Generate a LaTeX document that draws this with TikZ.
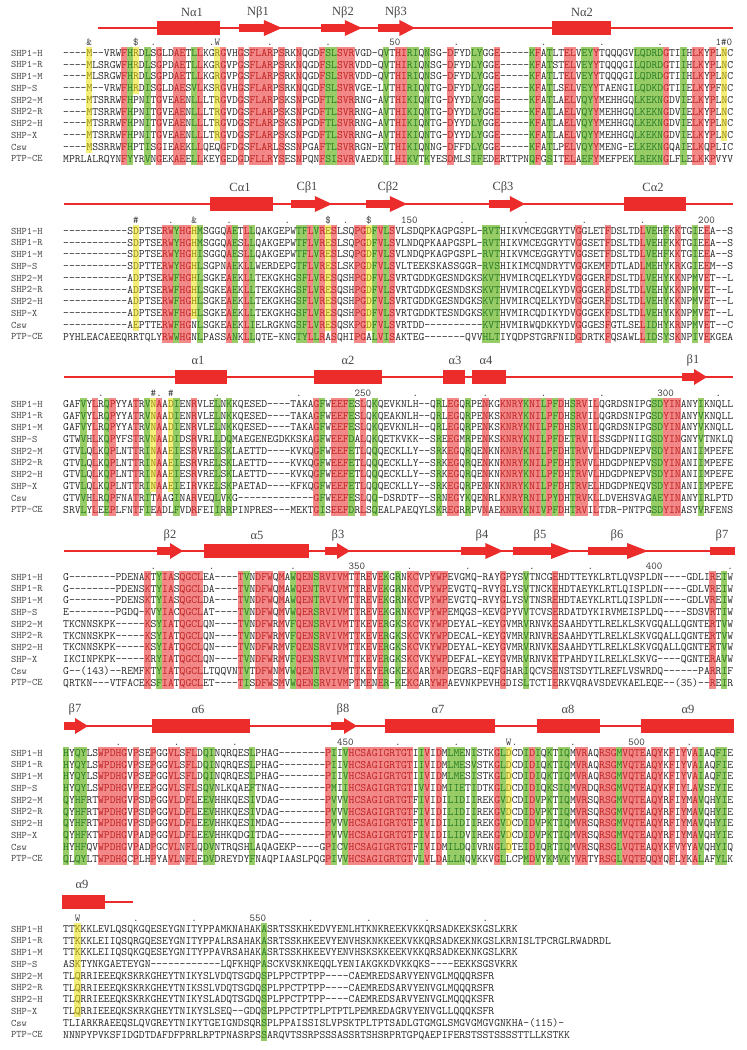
\documentclass[tikz,border=0pt]{standalone}
\usepackage{fontspec}
\newfontfamily\lblfont{Liberation Serif}
\definecolor{hlr}{RGB}{242,136,136}
\definecolor{hlg}{RGB}{152,204,102}
\definecolor{hly}{RGB}{244,238,122}
\definecolor{txr}{RGB}{190,32,32}
\definecolor{txg}{RGB}{36,122,36}
\definecolor{txy}{RGB}{146,136,16}
\definecolor{txn}{RGB}{40,40,40}
\definecolor{lblc}{RGB}{70,70,70}
\definecolor{mkc}{RGB}{60,60,60}
\definecolor{ssred}{RGB}{236,43,43}
\definecolor{sslc}{RGB}{70,70,70}
% font size chosen so that one character is 5.826pt wide
\newlength\tmpw
\settowidth\tmpw{\ttfamily\fontsize{11.1}{12}\selectfont M}
\pgfmathsetmacro\seqfs{11.1*5.826/\tmpw}
\settowidth\tmpw{\ttfamily\fontsize{\seqfs}{12}\selectfont M}
\pgfmathsetmacro\cw{\tmpw}
\tikzset{
  seqrowt/.style={font=\ttfamily\fontsize{\seqfs}{12}\selectfont, inner sep=0pt, anchor=base west, text=txn},
  lbl/.style={font=\ttfamily\fontsize{10}{12}\selectfont, inner sep=0pt, anchor=base west, text=lblc},
  mk/.style={font=\ttfamily\fontsize{10.5}{12}\selectfont, inner sep=0pt, anchor=base, text=mkc},
  mknum/.style={mk, anchor=base west},
  sslab/.style={font=\lblfont\fontsize{12.5}{14}\selectfont, inner sep=0pt, text=sslc},
  ssl/.style={draw=ssred, line width=2.7pt},
}
\newcount\cidx
\newtoks\rowtoks
\def\xo{63}
\def\pitch{11.75}
\expandafter\def\csname by1\endcsname{53}
\expandafter\def\csname by2\endcsname{231}
\expandafter\def\csname by3\endcsname{404}
\expandafter\def\csname by4\endcsname{577}
\expandafter\def\csname by5\endcsname{753}
\expandafter\def\csname by6\endcsname{929}
\def\pass{1}
\newcommand\colorcols[2]{%
  \foreach \ca/\cb/\kk/\ra/\rb in {#2}{%
    \foreach \cc in {\ca,...,\cb}{%
      \foreach \rr in {\ra,...,\rb}{%
        \expandafter\xdef\csname cl@#1@\rr @\cc\endcsname{\kk}%
      }}}}
\newcommand\seqcell[1]{%
  \ifcsname cl@\curb @\curr @\the\cidx\endcsname
    \edef\kk{\csname cl@\curb @\curr @\the\cidx\endcsname}%
    \ifx-#1\def\kk{n}\fi
  \else\def\kk{n}\fi
  \if1\pass
    \if n\kk\else
      \pgfmathsetmacro\cx{\xo+\the\cidx*\cw}%
      \fill[hl\kk] (\cx-0.2,\cury-\pitch/2-0.25) rectangle (\cx+\cw+0.2,\cury+\pitch/2+0.25);%
    \fi
  \else
    \if n\kk \global\rowtoks=\expandafter{\the\rowtoks #1\kern0pt}%
    \else\if r\kk \global\rowtoks=\expandafter{\the\rowtoks\textcolor{txr}{#1}}%
    \else\if g\kk \global\rowtoks=\expandafter{\the\rowtoks\textcolor{txg}{#1}}%
    \else \global\rowtoks=\expandafter{\the\rowtoks\textcolor{txy}{#1}}%
    \fi\fi\fi
  \fi}
\def\seqscan#1{\ifx\relax#1\else\seqcell{#1}\global\advance\cidx by 1\relax\expandafter\seqscan\fi}
\newcommand\seqrow[4]{%
  \pgfmathsetmacro\cury{\csname by#1\endcsname+(#2-1)*\pitch}%
  \def\curb{#1}\def\curr{#2}%
  \global\cidx=0\relax
  \global\rowtoks={}%
  \seqscan#4\relax
  \if2\pass
    \node[seqrowt] (seq-#1-#2) at (\xo,\cury+3.4) {\the\rowtoks};
    \node[lbl] (lab-#1-#2) at (11,\cury+3.2) {#3};
  \fi}
\newcommand\mkmarks[2]{%
  \pgfmathsetmacro\my{\csname by#1\endcsname-8}%
  \foreach \mc/\mt in {#2}{\node[mk] at ({\xo+(\mc+0.5)*\cw},\my) {\mt};}}
\newcommand\mknums[2]{%
  \pgfmathsetmacro\my{\csname by#1\endcsname-8}%
  \foreach \mc/\mt in {#2}{\node[mknum] at ({\xo+\mc*\cw},\my) {\mt};}}
\newcommand\ssarrow[3]{%
  \pgfmathsetmacro\hl{min(21,max(13,0.42*(#2-#1)))}%
  \fill[ssred] (#1,#3-3.8) -- ({#2-\hl},#3-3.8) -- ({#2-\hl},#3-8) -- (#2,#3) -- ({#2-\hl},#3+8) -- ({#2-\hl},#3+3.8) -- (#1,#3+3.8) -- cycle;}
\newcommand\sshelix[3]{\fill[ssred] (#1,#3-6.8) rectangle (#2,#3+6.8);}
\newcommand\ssbody[3]{\fill[ssred] (#1,#3-3.8) rectangle (#2,#3+3.8);}

% ---------------- colour columns ----------------
\colorcols{1}{4/4/y/1/9, 10/10/r/1/10, 11/11/g/1/10, 12/12/y/1/4, 14/14/g/1/10, 16/16/r/1/10,
  19/20/r/1/10, 22/22/g/1/10, 23/23/r/1/10, 26/26/y/1/8, 27/27/r/1/10, 30/30/r/1/10,
  32/35/r/1/10, 37/37/r/1/10, 40/40/r/1/10, 44/44/r/1/10, 45/46/g/1/10, 47/49/r/1/10,
  55/55/g/1/10, 57/58/r/1/10, 59/60/g/1/10, 62/62/g/1/10, 66/66/r/1/10, 70/71/g/1/10,
  74/74/r/1/10, 80/80/g/1/10, 81/81/r/1/10, 83/83/g/1/10, 86/87/r/1/10, 89/90/g/1/10, 91/91/r/1/10,
  98/102/g/1/10, 103/103/r/1/10, 106/106/g/1/10, 108/109/r/1/10, 111/111/r/1/10, 113/113/y/1/8}
\colorcols{2}{12/12/y/1/9, 17/18/r/1/10, 19/19/g/1/10, 20/21/r/1/10, 22/22/y/1/8, 23/23/g/1/10,
  28/28/r/1/10, 29/29/g/1/10, 31/31/r/1/10, 32/32/g/1/10, 40/41/g/1/10, 42/42/r/1/10,
  43/43/g/1/10, 44/44/r/1/10, 45/45/y/1/9, 46/46/r/1/10, 50/51/r/1/10, 52/52/y/1/9,
  53/53/g/1/10, 54/54/r/1/10, 55/55/g/1/10, 56/56/r/1/10, 72/74/g/1/10, 88/88/r/1/10,
  93/93/r/1/10, 99/99/r/1/10, 100/101/g/1/10, 103/103/g/1/10, 105/105/r/1/10,
  108/108/g/1/10, 110/110/r/1/10}
\colorcols{3}{3/3/g/1/10, 5/5/r/1/10, 7/7/g/1/10, 8/8/r/1/10, 12/12/r/1/10, 14/14/g/1/10,
  15/15/y/1/8, 16/16/r/1/10, 18/18/y/1/8, 19/19/g/1/10, 22/22/r/1/10, 26/26/g/1/10,
  28/28/g/1/10, 43/43/r/1/10, 44/44/g/1/10, 46/48/r/1/10, 49/49/g/1/10, 51/51/r/1/10,
  53/53/g/1/10, 64/64/g/1/10, 66/67/r/1/10, 69/69/g/1/10, 72/72/r/1/10, 75/78/r/1/10,
  79/79/g/1/10, 80/81/r/1/10, 82/82/g/1/10, 83/83/r/1/10, 84/84/g/1/10, 85/85/r/1/10,
  87/87/g/1/10, 88/89/r/1/10, 91/91/r/1/10, 101/102/g/1/10, 103/105/r/1/10, 109/109/g/1/10}
\colorcols{4}{14/14/r/1/10, 16/16/g/1/10, 17/18/r/1/10, 20/23/r/1/10, 30/30/r/1/10,
  31/31/g/1/10, 33/35/r/1/10, 37/37/r/1/10, 39/39/g/1/10, 40/42/r/1/10, 43/43/g/1/10,
  44/48/r/1/10, 50/50/r/1/10, 52/52/r/1/10, 54/54/r/1/10, 55/55/g/1/10, 57/57/g/1/10,
  59/60/r/1/10, 63/65/r/1/10, 75/75/r/1/10, 79/79/g/1/10, 84/84/r/1/10, 111/111/r/1/10,
  113/113/g/1/10}
\colorcols{5}{0/0/g/1/10, 2/3/g/1/10, 6/10/r/1/10, 12/12/r/1/10, 15/15/r/1/10, 18/19/r/1/10,
  21/22/r/1/10, 24/25/g/1/10, 32/32/g/1/10, 45/45/r/1/10, 46/46/g/1/10, 48/48/g/1/10,
  49/59/r/1/10, 61/61/g/1/10, 62/62/r/1/10, 64/64/r/1/10, 66/68/g/1/10, 70/70/g/1/10,
  74/74/r/1/10, 75/75/g/1/10, 76/76/y/1/9, 79/79/g/1/10, 80/80/r/1/10, 81/81/g/1/10,
  83/83/g/1/10, 85/86/g/1/10, 88/89/r/1/10, 92/94/r/1/10, 95/95/g/1/10, 96/99/r/1/10,
  101/102/r/1/10, 104/104/r/1/10, 106/106/r/1/10, 108/108/r/1/10, 109/109/g/1/10,
  112/113/g/1/10}
\colorcols{6}{2/2/y/1/8, 34/34/g/1/10}

\newcommand\allrows{%
\seqrow{1}{1}{SHP1-H}{----M--VRWFHRDLSGLDAETLLKGRGVHGSFLARPSRKNQGDFSLSVRVGD-QVTHIRIQNSG-DFYDLYGGE-----KFATLTELVEYYTQQQGVLQDRDGTIIHLKYPLNC}%
\seqrow{1}{2}{SHP1-R}{----MLSRGWFHRDLSGPDAETLLKGRGVPGSFLARPSRKNQGDFSLSVRVDD-QVTHIRIQNSG-DFYDLYGGE-----KFATSTELVEYYTQQQGILQDRDGTIIHLKYPLNC}%
\seqrow{1}{3}{SHP1-M}{----MLSRGWFHRDLSGPDAETLLKGRGVPGSFLARPSRKNQGDFSLSVRVDD-QVTHIRIQNSG-DFYDLYGGE-----KFATLTELVEYYTQQQGILQDRDGTIIHLKYPLNC}%
\seqrow{1}{4}{SHP-S}{----M--VRWFHRDISGLDAESVLKSRGVHGSFLARPSRKNQGDFSLSVRVGE-LVTHIRIQNTG-DFYDLYGGE-----KFATLSELVEYYTAENGILQDKDGTIIELKYPFNC}%
\seqrow{1}{5}{SHP2-M}{----MTSRRWFHPNITGVEAENLLLTRGVDGSFLARPSKSNPGDFTLSVRRNG-AVTHIKIQNTG-DYYDLYGGE-----KFATLAELVQYYMEHHGQLKEKNGDVIELKYPLNC}%
\seqrow{1}{6}{SHP2-R}{----MTSRRWFHPNITGVEAENLLLTRGVDGSFLARPSKSNPGDFTLSVRRNG-AVTHIKIQNTG-DYYDLYGGE-----KFATLAELVQYYMEHHGQLKEKNGDVIELKYPLNC}%
\seqrow{1}{7}{SHP2-H}{----MTSRRWFHPNITGVEAENLLLTRGVDGSFLARPSKSNPGDFTLSVRRNG-AVTHIKIQNTG-DYYDLYGGE-----KFATLAELVQYYMEHHGQLKEKNGDVIELKYPLNC}%
\seqrow{1}{8}{SHP-X}{----MTSRRWFHPNITGVEAENLLLTRGVDGSFLARPSKSNPGDFTLSVRRNG-AVTHIKIQNTG-DYYDLYGGE-----KFATLAELVQYYMEHHGQLKEKNGDVIELKYPLNC}%
\seqrow{1}{9}{Csw}{----MSSRRWFHPTISGIEAEKLLQEQGFDGSFLARLSSSNPGAFTLSVRRGN-EVTHIKIQNNG-DFFDLYGGE-----KFATLPELVQYYMENG-ELKEKNGQAIELKQPLIC}%
\seqrow{1}{10}{PTP-CE}{MPRLALRQYNFYYRVNGEKAEELLKEYGEDGDFLLRYSESNPQNFSISVRVAEDKILHIKVTKYESDMLSIFEDERTTPNQFGSITELAEFYMEFPEKLREKNGLFLELKKPVYV}%
%
\seqrow{2}{1}{SHP1-H}{-----------SDPTSERWYHGHMSGGQAETLLQAKGEPWTFLVRESLSQPGDFVLSVLSDQPKAGPGSPL-RVTHIKVMCEGGRYTVGGLETFDSLTDLVEHFKKTGIEEA--S}%
\seqrow{2}{2}{SHP1-R}{-----------SDPTSERWYHGHMSGGQAESLLQAKGEPWTFLVRESLSQPGDFVLSVLNDQPKAAPGSPL-RVTHIKVMCEGGRYTVGGSETFDSLTDLVEHFKKTGIEEA--S}%
\seqrow{2}{3}{SHP1-M}{-----------SDPTSERWYHGHISGGQAESLLQAKGEPWTFLVRESLSQPGDFVLSVLNDQPKAGPGSPL-RVTHIKVMCEGGRYTVGGSETFDSLTDLVEHFKKTGIEEA--S}%
\seqrow{2}{4}{SHP-S}{-----------SDPTTERWYHGHLSGPNAEKLLWERDEPGTFLVRESLSKPGDFVLSVLTEEKSKASSGGR-RVSHIKIMCQNDRYTVGGKEMFDTLADLMEHYKRKGIEEM--S}%
\seqrow{2}{5}{SHP2-M}{-----------ADPTSERWFHGHLSGKEAEKLLTEKGKHGSFLVRESQSHPGDFVLSVRTGDDKGESNDGKSKVTHVMIRCQELKYDVGGGERFDSLTDLVEHYKKNPMVET--L}%
\seqrow{2}{6}{SHP2-R}{-----------ADPTSERWFHGHLSGKEAEKLLTEKGKHGSFLVRESQSHPGDFVLSVRTGDDKGESNDSKSKVTHVMIRCQELKYDVGGGERFDSLTDLVEHYKKNPMVET--L}%
\seqrow{2}{7}{SHP2-H}{-----------ADPTSERWFHGHLSGKEAEKLLTEKGKHGSFLVRESQSHPGDFVLSVRTGDDKGESNDGKSKVTHVMIRCQELKYDVGGGERFDSLTDLVEHYKKNPMVET--L}%
\seqrow{2}{8}{SHP-X}{-----------ADPTSERWFHGHLSGKEAEKLLTEKGKHGSFLVRESQSHPGDFVLSVRTGDDKTESNDGKSKVTHVMIRCQDIKYDVGGGEKFDSLTDLVEHYKKNPMVET--L}%
\seqrow{2}{9}{Csw}{-----------AEPTTERWFHGNLSGKEAEKLIELRGKNGSFLVRESQSKPGDFVLSVRTDD----------KVTHVMIRWQDKKYDVGGGESFGTLSELIDHYKRNPMVET--C}%
\seqrow{2}{10}{PTP-CE}{PYHLEACAEEQRRTQLYRWWHGNLPASSANKLLQTE-KNGTYLLRASQHIPGALVISAKTEG-------QVVHLTIYQDPSTGRFNIDGDRTKFQSAWLLIDSYSKNPIVEKGEA}%
%
\seqrow{3}{1}{SHP1-H}{GAFVYLRQPYYATRVNAADIENRVLELNKKQESED----TAKAGFWEEFESLQKQEVKNLH--QRLEGQRPENKGKNRYKNILPFDHSRVILQGRDSNIPGSDYINANYIKNQLL}%
\seqrow{3}{2}{SHP1-R}{GAFVYLRQPYYATRVNAADIENRVLELNKKQESED----TAKAGFWEEFESLQKQEAKNLH--QRLEGQRPENKSKNRYKNILPFDHSRVILQGRDSNIPGSDYINANYVKNQLL}%
\seqrow{3}{3}{SHP1-M}{GAFVYLRQPYYATRVNAADIENRVLELNKKQESED----TAKAGFWEEFESLQKQEVKNLH--QRLEGQRPENKSKNRYKNILPFDHSRVILQGRDSNIPGSDYINANYVKNQLL}%
\seqrow{3}{4}{SHP-S}{GTWVHLKQPYFSTRVNAADIDSRVRLLDQMAEGENEGDKKSKAGFWEEFDALQKQETKVKK--SREEGMRPENKSKNRYKNILPFDETRVILSSGDPNIIGSDYINGNYVTNKLQ}%
\seqrow{3}{5}{SHP2-M}{GTVLQLKQPLNTTRINAAEIESRVRELSKLAETTD----KVKQGFWEEFETLQQQECKLLY--SRKEGQRQENKNKNRYKNILPFDHTRVVLHDGDPNEPVSDYINANIIMPEFE}%
\seqrow{3}{6}{SHP2-R}{GTVLQLKQPLNTTRINAAEIESRVRELSKLAETTD----KVKQGFWEEFETLQQQECKLLY--SRKEGQRQENKNKNRYKNILPFDHTRVVLHDGDPNEPVSDYINANIIMPEFE}%
\seqrow{3}{7}{SHP2-H}{GTVLQLKQPLNTTRINAAEIESRVRELSKLAETTD----KVKQGFWEEFETLQQQECKLLY--SRKEGQRQENKNKNRYKNILPFDHTRVVLHDGDPNEPVSDYINANIIMPEFE}%
\seqrow{3}{8}{SHP-X}{GTVLQLKQPLNTTRINAAEIEIRVKELSKPAETAD----KFKQGFWEEFETLQQQECKLLY--SRKEGQRPENKNKNRYKNILPFDHTRVELHDGDPNEQVSDYINANIIMPEFE}%
\seqrow{3}{9}{Csw}{GTVVHLRQPFNATRITAAGINARVEQLVKG-------------GFWEEFESLQQ-DSRDTF--SRNEGYKQENRLKNRYRNILPYDHTRVKLLDVEHSVAGAEYINANYIRLPTD}%
\seqrow{3}{10}{PTP-CE}{SRVLYLEEPLFNTFIEADLFVDRFEIIRRPINPRES---MEKTGISEEFDRLSQEALPAEQYLSKREGRRPVNAEKNRYKNIVPFDHTRVILTDR-PNTPGSDYINASYVRFENS}%
%
\seqrow{4}{1}{SHP1-H}{G--------PDENAKTYIASQGCLEA----TVNDFWQMAWQENSRVIVMTTREVEKGRNKCVPYWPEVGMQ-RAYGPYSVTNCGEHDTTEYKLRTLQVSPLDN----GDLIREIW}%
\seqrow{4}{2}{SHP1-R}{G--------PDENSKTYIASQGCLDA----TVNDFWQMAWQENTRVIVMTTREVEKGRNKCVPYWPEVGTQ-RVYGLYSVTNCKEHDTAEYKLRTLQISPLDN----GDLVREIW}%
\seqrow{4}{3}{SHP1-M}{G--------PDENSKTYIASQGCLDA----TVNDFWQMAWQENTRVIVMTTREVEKGRNKCVPYWPEVGTQ-RVYGLYSVTNSREHDTAEYKLRTLQISPLDN----GDLVREIW}%
\seqrow{4}{4}{SHP-S}{E--------PGDQ-KVYIACQGCLAT----TVNDFWQMVWQERSRVIVMTTREVEKGRNKCVPYWPEMQGS-KEVGPYVVTCVSERDATDYKIRVMEISPLDQ----SDSVRTIW}%
\seqrow{4}{5}{SHP2-M}{TKCNNSKPK-----KSYIATQGCLQN----TVNDFWRMVFQENSRVIVMTTKEVERGKSKCVKYWPDEYAL-KEYGVMRVRNVKESAAHDYTLRELKLSKVGQALLQGNTERTVW}%
\seqrow{4}{6}{SHP2-R}{TKCNNSKPK-----KSYIATQGCLQN----TVNDFWRMVFQENSRVIVMTTKEVERGKSKCVKYWPDECAL-KEYGVMRVRNVRESAAHDYTLRELKLSKVGQALLQGNTERTVW}%
\seqrow{4}{7}{SHP2-H}{TKCNNSKPK-----KSYIATQGCLQN----TVNDFWRMVFQENSRVIVMTTKEVERGKSKCVKYWPDEYAL-KEYGVMRVRNVKESAAHDYTLRELKLSKVGQALLQGNTERTVW}%
\seqrow{4}{8}{SHP-X}{IKCINPKPK-----KRYIATQGCLQN----TVNDFWRMVFQENSRVIVMTTKEVERGKSKCVKYWPDEFAL-KEYGVMRVRNVKETPAHDYILRELKLSKVG----QGNTERAVW}%
\seqrow{4}{9}{Csw}{G--(143)--REMFKTYIATQGCLLTQQVNTVTDFWNMVWQENTRVIVMTTKEYERGKEKCARYWPDEGRS-EQFGHARIQCVSENSTSDYTLREFLVSWRDQ------PARRIF}%
\seqrow{4}{10}{PTP-CE}{QRTKN---VTFACEKSFIATQGCLET----TISDFWSMVWQENSRVIVMPTMENER-KEKCARYWPAEVNKPEVHGDISLTCTIERKVQRAVSDEVKAELEQE--(35)--REIR}%
%
\seqrow{5}{1}{SHP1-H}{HYQYLSWPDHGVPSEPGGVLSFLDQINQRQESLPHAG--------PIIVHCSAGIGRTGTIIVIDMLMENISTKGLDCDIDIQKTIQMVRAQRSGMVQTEAQYKFIYVAIAQFIE}%
\seqrow{5}{2}{SHP1-R}{HYQYLSWPDHGVPSEPGGVLSFLDQINQRQESLPHAG--------PIIVHCSAGIGRTGTIIVIDMLMESVSTKGLDCDIDIQKTIQMVRAQRSGMVQTEAQYKFIYVAIAQFIE}%
\seqrow{5}{3}{SHP1-M}{HYQYLSWPDHGVPSEPGGVLSFLDQINQRQESLPHAG--------PIIVHCSAGIGRTGTIIVIDMLMESISTKGLDCDIDIQKTIQMVRAQRSGMVQTEAQYKFIYVAIAQFIE}%
\seqrow{5}{4}{SHP-S}{HYQYLSWPDHGVPEEPGGVLSFLSQVNLKQAEFTNAG--------PMIIHCSAGIGRTGTIVVIDMIIETIDTKGLDCDIDIQKSIQMVRDQRSGMVQTEAQYKFIYLAVSEYIE}%
\seqrow{5}{5}{SHP2-M}{QYHFRTWPDHGVPSDPGGVLDFLEEVHHKQESIVDAG--------PVVVHCSAGIGRTGTFIVIDILIDIIREKGVDCDIDVPKTIQMVRSQRSGMVQTEAQYRFIYMAVQHYIE}%
\seqrow{5}{6}{SHP2-R}{QYHFRTWPDHGVPSDPGGVLDFLEEVHHKQESIVDAG--------PVVVHCSAGIGRTGTFIVIDILIDIIREKGVDCDIDVPKTIQMVRSQRSGMVQTEAQYRFIYMAVQHYIE}%
\seqrow{5}{7}{SHP2-H}{QYHFRTWPDHGVPSDPGGVLDFLEEVHHKQESIMDAG--------PVVVHCSAGIGRTGTFIVIDILIDIIREKGVDCDIDVPKTIQMVRSQRSGMVQTEAQYRFIYMAVQHYIE}%
\seqrow{5}{8}{SHP-X}{QYHFKTWPDHGVPADPGGVLDFLEEVHHKQDGITDAG--------PVVVHCSAGIGRTGTFIVIDILIDVIREKGVDCDIDVPKTIQMVRSQRSGMVQTEAQYRFIYMAVQHYIE}%
\seqrow{5}{9}{Csw}{HYHFQVWPDHGVPADPGCVLNFLQDVNTRQSHLAQAGEKP----GPICVHCSAGIGRTGTFIVIDMILDQIVRNGLDTEIDIQRTIQMVRSQRSGLVQTEAQYKFVYYAVQHYIQ}%
\seqrow{5}{10}{PTP-CE}{QLQYLTWPDHGCPLHPYAVLNFLEDVDREYDYFNAQPIAASLPQGPIVVHCSAGIGRTGTVLVLDALLNQVKKVGLLCPMDVYKMVKYVRTYRSGLVQTEQQYQFLYKALAFYLK}%
%
\seqrow{6}{1}{SHP1-H}{TTKKKLEVLQSQKGQESEYGNITYPPAMKNAHAKASRTSSKHKEDVYENLHTKNKREEKVKKQRSADKEKSKGSLKRK}%
\seqrow{6}{2}{SHP1-R}{TTKKKLEIIQSQRGQESEYGNITYPPALRSAHAKASRTSSKHKEEVYENVHSKNKKEEKVKKQRSADKEKNKGSLKRNISLTPCRGLRWADRDL}%
\seqrow{6}{3}{SHP1-M}{TTKKKLEIIQSQKGQESEYGNITYPPAVRSAHAKASRTSSKHKEEVYENVHSKSKKEEKVKKQRSADKEKNKGSLKRK}%
\seqrow{6}{4}{SHP-S}{ASKTYNKGAETEYGN------------LQFKHQPASCKVSKNKEQQLYENIAKGKKDVKKQKS----EEKKSGSVKRK}%
\seqrow{6}{5}{SHP2-M}{TLQRRIEEEQKSKRKGHEYTNIKYSLVDQTSGDQSPLPPCTPTPP----CAEMREDSARVYENVGLMQQQRSFR}%
\seqrow{6}{6}{SHP2-R}{TLQRRIEEEQKSKRKGHEYTNIKSSLVDQTSGDQSPLPPCTPTPP----CAEMREDSARVYENVGLMQQQRSFR}%
\seqrow{6}{7}{SHP2-H}{TLQRRIEEEQKSKRKGHEYTNIKYSLADQTSGDQSPLPPCTPTPP----CAEMREDSARVYENVGLMQQQKSFR}%
\seqrow{6}{8}{SHP-X}{TLQRRIEEEQKSKRKGHEYTNIKYSLSEQ--GDQSPLPPCTPTPLPTPTLPEMREDAGRVYENVGLLQQQKSFR}%
\seqrow{6}{9}{Csw}{TLIARKRAEEQSLQVGREYTNIKYTGEIGNDSQRSPLPPAISSISLVPSKTPLTPTSADLGTGMGLSMGVGMGVGNKHA-(115)-}%
\seqrow{6}{10}{PTP-CE}{NNNPYPVKSFIDGDTDAFDFPRRLRPTPNASRPSSARQVTSSRPSSSASSRTSHSRPRTGPQAEPIFERSTSSTSSSSTTLLKSTKK}%
}

\begin{document}
\begin{tikzpicture}[x=1pt,y=-1pt]
\useasboundingbox (0,0) rectangle (747,1050);
\fill[white] (0,0) rectangle (747,1050);

% ---------- secondary structure ----------
% block 1
\draw[ssl] (98,28) -- (733,28);
\sshelix{157}{220}{28} \ssarrow{239}{282}{28} \ssarrow{321}{362}{28} \ssarrow{378}{415}{28} \sshelix{552}{611}{28}
\node[sslab] (na1) at (192,12) {Nα1};
\node[sslab] (nb1) at (258,12) {Nβ1};
\node[sslab] (nb2) at (343,12) {Nβ2};
\node[sslab] (nb3) at (396,12) {Nβ3};
\node[sslab] (na2) at (582,12) {Nα2};
% block 2
\draw[ssl] (64,204) -- (733,204);
\sshelix{210}{273}{204} \ssarrow{291}{332}{204} \ssarrow{366}{407}{204} \ssarrow{489}{525}{204} \sshelix{624}{686}{204}
\node[sslab] (ca1) at (240,187) {Cα1};
\node[sslab] (cb1) at (307,187) {Cβ1};
\node[sslab] (cb2) at (388,187) {Cβ2};
\node[sslab] (cb3) at (503,187) {Cβ3};
\node[sslab] (ca2) at (653,187) {Cα2};
% block 3
\draw[ssl] (64,377) -- (733,377);
\sshelix{175}{227}{377} \sshelix{314}{382}{377} \sshelix{443}{465}{377} \sshelix{472}{506}{377} \ssarrow{682}{707}{377}
\node[sslab] (a1) at (198,360) {α1};
\node[sslab] (a2) at (348,360) {α2};
\node[sslab] (a3) at (455,360) {α3};
\node[sslab] (a4) at (486,360) {α4};
\node[sslab] (b1) at (693,360) {β1};
% block 4
\draw[ssl] (64,551) -- (733,551);
\ssarrow{157}{183}{551} \sshelix{204}{309}{551} \ssarrow{325}{350}{551} \ssarrow{461}{503}{551}
\ssarrow{513}{572}{551} \ssarrow{588}{648}{551} \ssbody{710}{735}{551}
\node[sslab] (b2) at (170,535) {β2};
\node[sslab] (a5) at (257,535) {α5};
\node[sslab] (b3) at (338,535) {β3};
\node[sslab] (b4) at (482,535) {β4};
\node[sslab] (b5) at (540,535) {β5};
\node[sslab] (b6) at (617,535) {β6};
\node[sslab] (b7) at (722,535) {β7};
% block 5
\draw[ssl] (64,726) -- (733,726);
\ssarrow{64}{88}{726} \sshelix{152}{250}{726} \ssarrow{331}{357}{726} \sshelix{385}{495}{726}
\sshelix{537}{600}{726} \sshelix{641}{734}{726}
\node[sslab] (b7b) at (75,709) {β7};
\node[sslab] (a6) at (198,709) {α6};
\node[sslab] (b8) at (343,709) {β8};
\node[sslab] (a7) at (438,709) {α7};
\node[sslab] (a8) at (568,709) {α8};
\node[sslab] (a9) at (688,709) {α9};
% block 6
\draw[ssl] (104,902) -- (133,902);
\sshelix{62}{105}{902}
\node[sslab] (a9b) at (82,884) {α9};

% ---------- markers ----------
\mkmarks{1}{4/\&, 12/\$, 15/., 25/., 26/W, 35/., 45/., 67/., 82/., 92/., 102/.}
\mknums{1}{56/50, 112/1\#0}
\mkmarks{2}{12/\#, 18/., 22/\&, 28/., 38/., 45/\$, 48/., 52/\$, 68/., 79/., 89/., 99/.}
\mknums{2}{58/150, 109/200}
\mkmarks{3}{6/., 15/\#, 16/., 18/\#, 26/., 40/., 60/., 72/., 82/., 92/., 112/.}
\mknums{3}{50/250, 102/300}
\mkmarks{4}{15/., 25/., 39/., 59/., 69/., 80/., 90/., 114/.}
\mknums{4}{49/350, 100/400}
\mkmarks{5}{9/., 19/., 29/., 57/., 67/., 76/W, 77/., 87/., 107/.}
\mknums{5}{47/450, 97/500}
\mkmarks{6}{2/W, 12/., 22/., 42/., 52/., 62/., 72/.}
\mknums{6}{32/550}

% ---------- sequences ----------
\def\pass{1}\allrows
\def\pass{2}\allrows
\end{tikzpicture}
\end{document}
